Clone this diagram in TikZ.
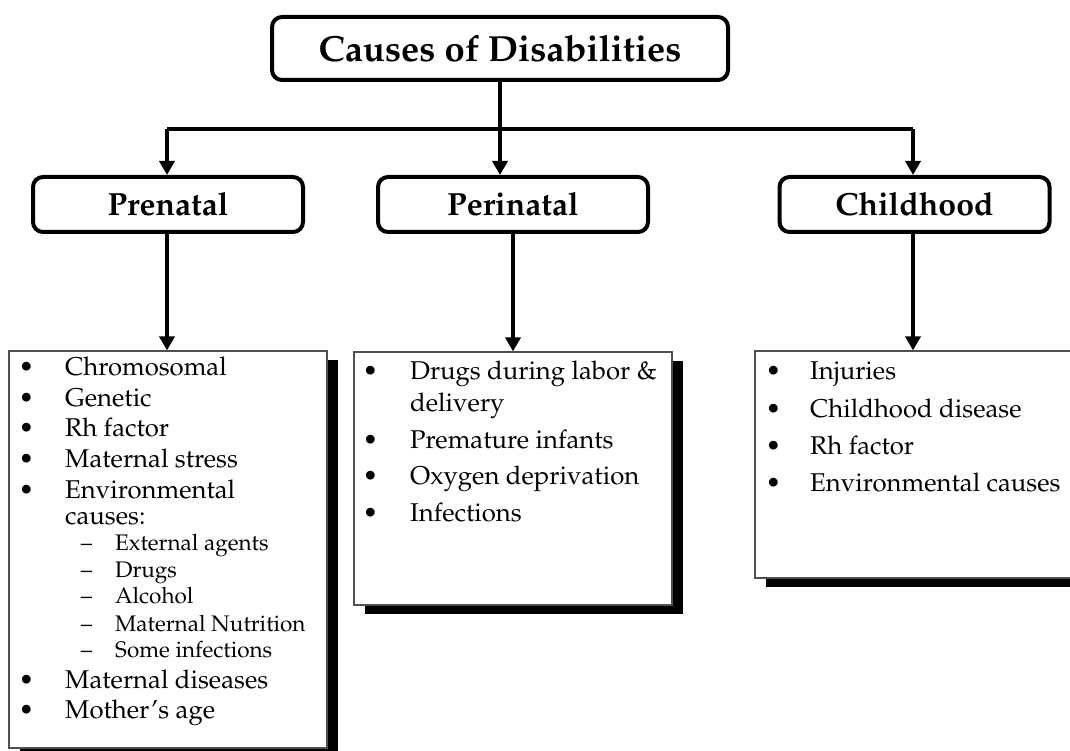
\documentclass[tikz,border=0pt]{standalone}
\usepackage[T1]{fontenc}
\renewcommand{\rmdefault}{ppl}
\usetikzlibrary{arrows.meta,shadows}
\newcommand{\bl}[1]{\llap{\textbullet\hspace{#1pt}}}
\newcommand{\dsh}{\llap{\textendash\hspace{23pt}}}
\definecolor{boxgray}{HTML}{505050}
\begin{document}
\begin{tikzpicture}[x=1pt,y=-1pt,
  head/.style={draw=black, line width=4pt, rounded corners=10pt, fill=white,
    minimum width=270pt, minimum height=55pt, inner sep=0pt,
    font=\fontsize{32}{38}\selectfont\bfseries},
  listbox/.style={draw=boxgray, line width=1.2pt, fill=white, inner sep=0pt,
    minimum width=318pt,
    drop shadow={shadow xshift=10.5pt, shadow yshift=-8.5pt, fill=black, opacity=1}},
  itm/.style={anchor=base west, inner sep=0pt, font=\fontsize{25.7}{30}\selectfont},
  subitm/.style={anchor=base west, inner sep=0pt, font=\fontsize{22.5}{26}\selectfont},
  conn/.style={line width=4pt, draw=black},
  arr/.style={conn, -{Triangle[width=15pt,length=14pt]}}
]
\useasboundingbox (0,0) rectangle (1070,751);

% title
\node[head, minimum width=456pt, minimum height=63pt,
  font=\fontsize{36.3}{44}\selectfont\bfseries] (title) at (500,48.5) {Causes of Disabilities};

% headers
\node[head] (pre) at (168,204.5) {Prenatal};
\node[head] (peri) at (513,204.5) {Perinatal};
\node[head] (child) at (914.5,204.5) {Childhood};

% list boxes
\node[listbox, minimum height=397pt] (prel) at (168,549.5) {};
\node[listbox, minimum height=253pt] (peril) at (513,478.5) {};
\node[listbox, minimum height=227pt] (childl) at (914,464.5) {};

% connectors
\coordinate (barL) at (167,129);
\coordinate (barR) at (913,129);
\draw[conn] (barL) -- (barR);
\draw[arr] (title.south) -- (title.south |- peri.north);
\draw[arr] (barL) -- (barL |- pre.north);
\draw[arr] (barR) -- (barR |- child.north);
\draw[arr] (pre.south -| barL) -- (barL |- prel.north);
\draw[arr] (peri.south) -- (peril.north);
\draw[arr] (child.south -| barR) -- (barR |- childl.north);

% prenatal items
\node[itm] (p1) at (65,375) {\bl{31}Chromosomal};
\node[itm] (p2) at (65,406) {\bl{31}Genetic};
\node[itm] (p3) at (65,436) {\bl{31}Rh factor};
\node[itm] (p4) at (65,467) {\bl{31}Maternal stress};
\node[itm] (p5) at (65,498) {\bl{31}Environmental};
\node[itm] (p6) at (65,524) {causes:};
\node[subitm] (s1) at (115,550) {\dsh External agents};
\node[subitm] (s2) at (115,577) {\dsh Drugs};
\node[subitm] (s3) at (115,603) {\dsh Alcohol};
\node[subitm] (s4) at (115,631) {\dsh Maternal Nutrition};
\node[subitm] (s5) at (115,657) {\dsh Some infections};
\node[itm] (p7) at (65,688) {\bl{31}Maternal diseases};
\node[itm] (p8) at (65,718) {\bl{31}Mother's age};

% perinatal items
\node[itm] (q1) at (410,379) {\bl{32}Drugs during labor \&};
\node[itm] (q2) at (410,411) {delivery};
\node[itm] (q3) at (410,448) {\bl{32}Premature infants};
\node[itm] (q4) at (410,484) {\bl{32}Oxygen deprivation};
\node[itm] (q5) at (410,521) {\bl{32}Infections};

% childhood items
\node[itm] (c1) at (810,379) {\bl{29}Injuries};
\node[itm] (c2) at (810,417) {\bl{29}Childhood disease};
\node[itm] (c3) at (810,454) {\bl{29}Rh factor};
\node[itm] (c4) at (810,491) {\bl{29}Environmental causes};
\end{tikzpicture}
\end{document}
